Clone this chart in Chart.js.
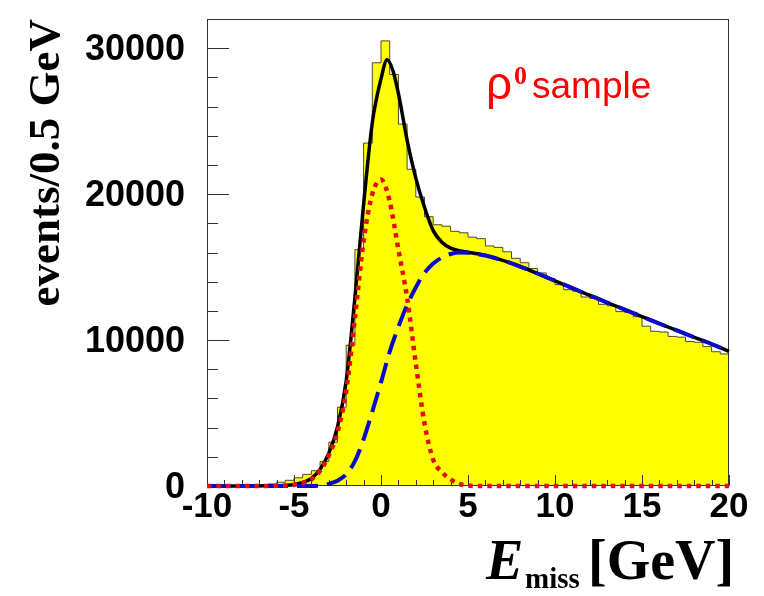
<!DOCTYPE html>
<html>
<head>
<meta charset="utf-8">
<script src="https://cdn.jsdelivr.net/npm/chart.js@4.4.1/dist/chart.umd.min.js"></script>
<style>
  html, body { margin: 0; padding: 0; background: #fff; }
  #plot { display: block; }
</style>
</head>
<body>
<canvas id="plot" width="764" height="596"></canvas>
<script>
'use strict';

// E_miss histogram, 0.5 GeV bins starting at -10 GeV
const binStart = -10;
const binWidth = 0.5;
const histCounts = [
  0, 0, 0, 0, 10, 30, 70, 140, 260, 390,
  560, 800, 1050, 1680, 3000, 5400, 9650, 16200, 23500, 29000,
  30500, 28200, 24800, 21700, 19800, 18450, 17900, 17800, 17450, 17350,
  17050, 16950, 16450, 16350, 16050, 15600, 15300, 14900, 14600, 14200,
  13800, 13450, 13350, 12950, 12850, 12450, 12350, 11950, 11900, 11600,
  10950, 10600, 10550, 10250, 10200, 9900, 9850, 9550, 9200, 9050
];

// fit components, read every 0.5 GeV
const curveX = [
  -10, -9.5, -9, -8.5, -8, -7.5, -7, -6.5, -6, -5.5,
  -5, -4.5, -4, -3.5, -3, -2.5, -2, -1.5, -1, -0.5,
  0, 0.5, 1, 1.5, 2, 2.5, 3, 3.5, 4, 4.5,
  5, 5.5, 6, 6.5, 7, 7.5, 8, 8.5, 9, 9.5,
  10, 10.5, 11, 11.5, 12, 12.5, 13, 13.5, 14, 14.5,
  15, 15.5, 16, 16.5, 17, 17.5, 18, 18.5, 19, 19.5, 20
];
const signalFit = [
  0, 0, 0, 0, 0, 0, 0, 0, 10, 30,
  80, 220, 460, 1050, 2100, 3700, 6500, 11500, 16800, 20000,
  21000, 19500, 16200, 12900, 8400, 4300, 1800, 950, 450, 150,
  30, 0, 0, 0, 0, 0, 0, 0, 0, 0,
  0, 0, 0, 0, 0, 0, 0, 0, 0, 0,
  0, 0, 0, 0, 0, 0, 0, 0, 0, 0, 0
];
const backgroundFit = [
  0, 0, 0, 0, 0, 0, 0, 0, 0, 0,
  0, 0, 0, 40, 150, 360, 800, 1700, 3200, 5100,
  7100, 9200, 10900, 12400, 13600, 14600, 15250, 15650, 15900, 16000,
  15980, 15900, 15790, 15640, 15460, 15260, 15040, 14800, 14560, 14310,
  14060, 13810, 13560, 13310, 13060, 12820, 12570, 12330, 12090, 11850,
  11610, 11370, 11130, 10890, 10660, 10420, 10190, 9960, 9730, 9480, 9230
];

// total fit has a few extra samples around the peak
const totalX = [
  -10, -8, -6, -5.5, -5, -4.5, -4, -3.5, -3, -2.5, -2, -1.5, -1, -0.5,
  0, 0.35, 0.7, 1, 1.5, 2, 2.5, 3, 3.5, 4, 4.5, 5, 5.5, 6,
  7, 8, 9, 10, 11, 12, 13, 14, 15, 16, 17, 18, 19, 20
];
const totalFit = [
  0, 0, 10, 40, 100, 240, 520, 1150, 2250, 4050, 7200, 12900, 19300, 24900,
  27900, 29200, 28400, 26900, 23700, 21100, 19100, 17500, 16700, 16300, 16120, 16020, 15920, 15800,
  15460, 15040, 14560, 14060, 13560, 13060, 12570, 12090, 11610, 11130, 10660, 10190, 9730, 9230
];

const xTickLabelEvery = 5;
const yTickLabelEvery = 10000;

const toPoints = (xs, ys) => xs.map((x, i) => ({ x: x, y: ys[i] }));

const histPoints = histCounts.map((c, i) => ({ x: binStart + i * binWidth, y: c }));
histPoints.push({ x: binStart + histCounts.length * binWidth, y: histCounts[histCounts.length - 1] });

const serif = '"Liberation Serif", "Times New Roman", serif';
const sans = '"Liberation Sans", Arial, sans-serif';

// keep the frame exactly where the reference has it
const noScalePadding = scale => {
  scale.paddingTop = 0;
  scale.paddingBottom = 0;
  scale.paddingLeft = 0;
  scale.paddingRight = 0;
};

// ROOT style frame with ticks pointing inwards
const frameTicks = {
  id: 'frameTicks',
  afterDatasetDraw(chart, args) {
    if (args.index !== 0) return;
    const { ctx, chartArea: a, scales: { x, y } } = chart;
    ctx.save();
    ctx.strokeStyle = '#333';
    ctx.lineWidth = 1;
    ctx.beginPath();
    x.ticks.forEach(t => {
      const px = Math.round(x.getPixelForValue(t.value)) + 0.5;
      const len = t.value % xTickLabelEvery === 0 ? 11 : 6;
      ctx.moveTo(px, a.bottom);
      ctx.lineTo(px, a.bottom - len);
    });
    y.ticks.forEach(t => {
      const py = Math.round(y.getPixelForValue(t.value)) + 0.5;
      const len = t.value % yTickLabelEvery === 0 ? 22 : 11;
      ctx.moveTo(a.left, py);
      ctx.lineTo(a.left + len, py);
    });
    ctx.stroke();
    ctx.strokeRect(a.left + 0.5, a.top + 0.5, a.width - 1, a.height - 1);
    ctx.restore();
  },
  afterDraw(chart) {
    const { ctx } = chart;
    ctx.save();
    ctx.textBaseline = 'alphabetic';

    // x axis title: E_miss [GeV]
    ctx.fillStyle = '#000';
    ctx.font = 'italic bold 56px ' + serif;
    ctx.fillText('E', 486, 579);
    ctx.font = 'bold 29px ' + serif;
    ctx.fillText('miss', 525, 588);
    ctx.font = 'bold 56px ' + serif;
    ctx.fillText('[GeV]', 588, 579);

    // sample label
    ctx.fillStyle = '#f00';
    ctx.font = '46px ' + sans;
    ctx.fillText('\u03C1', 486, 99);
    ctx.font = 'bold 26px ' + serif;
    ctx.fillText('0', 514, 84);
    ctx.font = '37px ' + sans;
    ctx.fillText('sample', 532, 98);
    ctx.restore();
  }
};

new Chart(document.getElementById('plot'), {
  type: 'line',
  data: {
    datasets: [
      {
        label: 'data',
        data: histPoints,
        stepped: true,
        fill: 'origin',
        backgroundColor: '#ffff00',
        borderColor: '#4a4a30',
        borderWidth: 1,
        pointRadius: 0,
        order: 4
      },
      {
        label: 'total',
        data: toPoints(totalX, totalFit),
        borderColor: '#000',
        borderWidth: 3.5,
        cubicInterpolationMode: 'monotone',
        pointRadius: 0,
        fill: false,
        clip: 6,
        order: 3
      },
      {
        label: 'background',
        data: toPoints(curveX, backgroundFit),
        borderColor: '#0a0acc',
        borderWidth: 4,
        borderDash: [21, 9],
        cubicInterpolationMode: 'monotone',
        pointRadius: 0,
        fill: false,
        clip: 6,
        order: 2
      },
      {
        label: 'signal',
        data: toPoints(curveX, signalFit),
        borderColor: '#e01010',
        borderWidth: 4.5,
        borderDash: [4.5, 5],
        cubicInterpolationMode: 'monotone',
        pointRadius: 0,
        fill: false,
        clip: 6,
        order: 1
      }
    ]
  },
  options: {
    responsive: false,
    animation: false,
    devicePixelRatio: 1,
    events: [],
    layout: { padding: { top: 19, right: 35, left: 0, bottom: 0 } },
    plugins: {
      legend: { display: false },
      tooltip: { enabled: false }
    },
    scales: {
      x: {
        type: 'linear',
        min: -10,
        max: 20,
        grid: { display: false },
        border: { display: false },
        ticks: {
          stepSize: 1,
          autoSkip: false,
          maxRotation: 0,
          padding: -4,
          color: '#000',
          font: { family: sans, weight: 'bold', size: 35, lineHeight: 1 },
          callback: v => (v % xTickLabelEvery === 0 ? String(v) : '')
        },
        afterFit: scale => { scale.height = 110; noScalePadding(scale); }
      },
      y: {
        type: 'linear',
        min: 0,
        max: 32000,
        grid: { display: false },
        border: { display: false },
        ticks: {
          stepSize: 2000,
          autoSkip: false,
          padding: 14,
          labelOffset: 2,
          color: '#000',
          font: { family: sans, weight: 'bold', size: 36 },
          callback: v => (v % yTickLabelEvery === 0 ? String(v) : '')
        },
        title: {
          display: true,
          text: 'events/0.5 GeV',
          align: 'end',
          color: '#000',
          padding: { top: 20, bottom: 0 },
          font: { family: serif, weight: 'bold', size: 45 }
        },
        afterFit: scale => { scale.width = 207; noScalePadding(scale); }
      }
    }
  },
  plugins: [frameTicks]
});
</script>
</body>
</html>
